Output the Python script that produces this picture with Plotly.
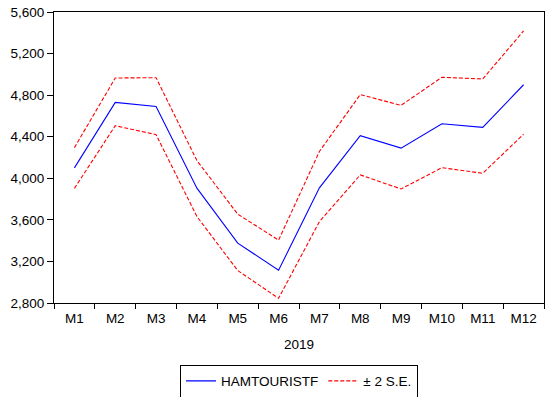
import plotly.graph_objects as go

months = ["M1", "M2", "M3", "M4", "M5", "M6", "M7", "M8", "M9", "M10", "M11", "M12"]
forecast = [4100, 4730, 4690, 3905, 3376, 3115, 3908, 4410, 4290, 4525, 4490, 4900]
upper = [4295, 4965, 4968, 4170, 3655, 3405, 4258, 4805, 4702, 4972, 4956, 5418]
lower = [3903, 4506, 4420, 3632, 3112, 2845, 3583, 4033, 3897, 4102, 4048, 4424]
y_ticks = [2800, 3200, 3600, 4000, 4400, 4800, 5200, 5600]

fig = go.Figure()
fig.add_trace(go.Scatter(x=months, y=forecast, mode="lines", name="HAMTOURISTF",
                         line=dict(color="#0000ff", width=1.1)))
fig.add_trace(go.Scatter(x=months, y=upper, mode="lines", name="± 2 S.E.",
                         line=dict(color="#ff0000", width=1.1, dash="4px,2px")))
fig.add_trace(go.Scatter(x=months, y=lower, mode="lines", name="± 2 S.E.", showlegend=False,
                         line=dict(color="#ff0000", width=1.1, dash="4px,2px")))

fig.update_layout(
    width=550, height=397,
    margin=dict(l=54, r=6, t=12, b=94),
    plot_bgcolor="white", paper_bgcolor="white",
    font=dict(family="Liberation Sans, Arial, sans-serif", size=13.5, color="black"),
    showlegend=True,
    legend=dict(orientation="h", x=0.5, xanchor="center", xref="paper",
                y=0.04, yanchor="middle", yref="container",
                bordercolor="black", borderwidth=1, font=dict(size=13.5),
                itemwidth=30, tracegroupgap=0),
    xaxis=dict(type="category", showgrid=False, showline=True, linecolor="black", linewidth=1,
               mirror=True, ticks="outside", ticklen=5, tickcolor="black", tickson="boundaries",
               ticklabelstandoff=3,
               title=dict(text="2019", standoff=14, font=dict(size=13.5)), range=[-0.5, 11.5]),
    yaxis=dict(range=[2800, 5600], tickvals=y_ticks, tickformat=",", showgrid=False,
               showline=True, linecolor="black", linewidth=1, mirror=True, ticks="outside",
               ticklen=6, tickcolor="black", zeroline=False),
)

fig.write_html("out.html", config={"displayModeBar": False},
               post_script="document.body.style.margin='0';")
